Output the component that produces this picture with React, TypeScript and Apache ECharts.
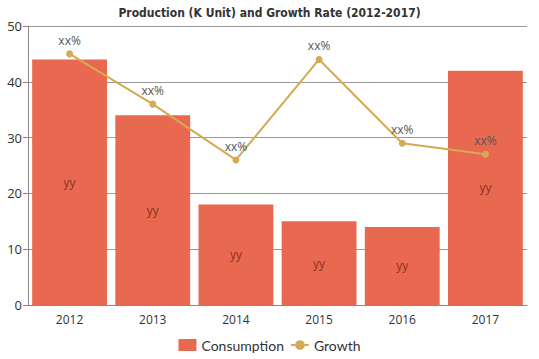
import React, { useEffect, useRef } from "react";
import * as echarts from "echarts";

const categories = ["2012", "2013", "2014", "2015", "2016", "2017"];
const consumption = [44, 34, 18, 15, 14, 42];
const growth = [45, 36, 26, 44, 29, 27];
const barLabels = ["yy", "yy", "yy", "yy", "yy", "yy"];
const lineLabels = ["xx%", "xx%", "xx%", "xx%", "xx%", "xx%"];
const title = "Production (K Unit) and Growth Rate (2012-2017)";

export default function App() {
  const ref = useRef<HTMLDivElement>(null);
  useEffect(() => {
    if (!ref.current) return;
    const chart = echarts.init(ref.current, null, { renderer: "svg" });
    chart.setOption({
      animation: false,
      title: {
        text: title,
        left: "center",
        top: 2,
        textStyle: {
          fontFamily: "DejaVu Sans Condensed",
          fontWeight: "bold",
          fontSize: 12,
          color: "#333",
        },
      },
      grid: { left: 28, right: 12, top: 26, bottom: 54 },
      legend: {
        bottom: 2,
        left: "center",
        itemWidth: 18,
        itemHeight: 12,
        itemGap: 6,
        textStyle: { fontFamily: "Lato", fontSize: 14, color: "#333" },
        data: [
          { name: "Consumption", icon: "rect", itemStyle: {} },
          { name: "Growth" },
        ],
      },
      xAxis: {
        type: "category",
        data: categories,
        axisLine: { lineStyle: { color: "#888" } },
        axisTick: { alignWithLabel: true, lineStyle: { color: "#888" } },
        axisLabel: { fontFamily: "Open Sans", fontSize: 12, color: "#333" },
      },
      yAxis: {
        type: "value",
        min: 0,
        max: 50,
        interval: 10,
        axisLine: { show: true, lineStyle: { color: "#888" } },
        axisTick: { show: true, lineStyle: { color: "#888" } },
        axisLabel: { fontFamily: "Open Sans", fontSize: 13, color: "#333", margin: 6 },
        splitLine: { lineStyle: { color: "#999" } },
      },
      series: [
        {
          name: "Consumption",
          type: "bar",
          data: consumption,
          barCategoryGap: "10%",
          itemStyle: { color: "#e8694f" },
          label: {
            show: true,
            position: "inside",
            formatter: (p: any) => barLabels[p.dataIndex],
            color: "#8a3322",
            fontFamily: "Open Sans",
            fontSize: 12,
          },
        },
        {
          name: "Growth",
          type: "line",
          data: growth,
          symbol: "circle",
          symbolSize: 7,
          itemStyle: { color: "#d4aa55" },
          lineStyle: { color: "#d4aa55", width: 2 },
          label: {
            show: true,
            position: "top",
            formatter: (p: any) => lineLabels[p.dataIndex],
            color: "#555",
            fontFamily: "Open Sans",
            fontSize: 12,
            distance: 4,
          },
        },
      ],
    });
    return () => chart.dispose();
  }, []);
  return <div ref={ref} style={{ width: 539, height: 359, position: "absolute", left: 0, top: 0 }} />;
}
